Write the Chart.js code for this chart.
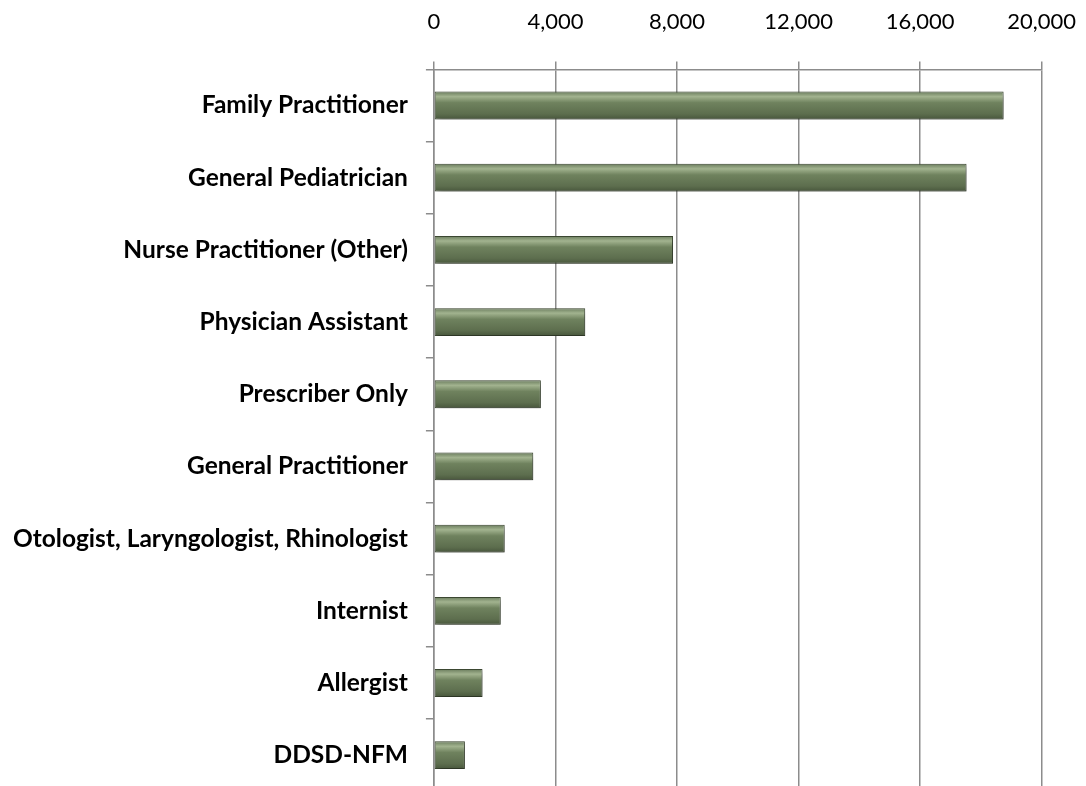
<!DOCTYPE html>
<html>
<head>
<meta charset="utf-8">
<script src="https://cdn.jsdelivr.net/npm/chart.js@4"></script>
<style>
  html, body { margin: 0; padding: 0; background: #fff; overflow: hidden; }
  .chart-container { position: relative; width: 1102px; height: 824px; }
</style>
</head>
<body>
<div class="chart-container"><canvas id="barChart"></canvas></div>
<script>
// Dados do gráfico
const categories = [
    'Family Practitioner',
    'General Pediatrician',
    'Nurse Practitioner (Other)',
    'Physician Assistant',
    'Prescriber Only',
    'General Practitioner',
    'Otologist, Laryngologist, Rhinologist',
    'Internist',
    'Allergist',
    'DDSD-NFM'
];
const counts = [18750, 17530, 7870, 4980, 3520, 3270, 2330, 2200, 1600, 1020];
const tickValues = [0, 4000, 8000, 12000, 16000, 20000];

const CAT_PCT = 0.385;

// Gradiente vertical para dar o efeito chanfrado
function barGradient(context) {
    const chart = context.chart;
    const yScale = chart.scales.y;
    if (!yScale || context.dataIndex === undefined) return '#64764f';
    const y = yScale.getPixelForValue(context.dataIndex);
    const half = (yScale.height / categories.length) * CAT_PCT / 2;
    if (!isFinite(y) || !isFinite(half) || half <= 0) return '#64764f';
    const g = chart.ctx.createLinearGradient(0, y - half, 0, y + half);
    g.addColorStop(0, '#6a7c5d');
    g.addColorStop(0.18, '#a2b38f');
    g.addColorStop(0.4, '#6f825e');
    g.addColorStop(0.8, '#5d6e4e');
    g.addColorStop(1, '#48563c');
    return g;
}

// Sombra suave atrás das barras
const shadowPlugin = {
    id: 'barShadow',
    beforeDatasetsDraw(chart) {
        const ctx = chart.ctx;
        ctx.save();
        ctx.shadowColor = 'rgba(0, 0, 0, 0.35)';
        ctx.shadowBlur = 6;
        ctx.shadowOffsetX = 2;
        ctx.shadowOffsetY = 3;
    },
    afterDatasetsDraw(chart) {
        chart.ctx.restore();
    }
};

const barConfig = {
    type: 'bar',
    data: {
        labels: categories,
        datasets: [{
            data: counts,
            backgroundColor: barGradient,
            borderColor: '#3e4a33',
            borderWidth: 1,
            borderSkipped: false,
            categoryPercentage: CAT_PCT,
            barPercentage: 1
        }]
    },
    plugins: [shadowPlugin],
    options: {
        indexAxis: 'y',
        responsive: true,
        maintainAspectRatio: false,
        animation: false,
        layout: {
            padding: { top: -17, right: 12, bottom: 0, left: -5 }
        },
        plugins: {
            legend: { display: false },
            tooltip: { enabled: false }
        },
        scales: {
            x: {
                position: 'top',
                min: 0,
                max: 20000,
                afterBuildTicks: function(axis) {
                    axis.ticks = tickValues.map(v => ({ value: v }));
                },
                ticks: {
                    color: '#000',
                    padding: 26,
                    font: { family: 'Lato, sans-serif', size: 22 },
                    callback: function(value) {
                        return value.toLocaleString('en-US');
                    }
                },
                grid: {
                    color: '#8c8c8c',
                    lineWidth: 1.5,
                    tickLength: 8
                },
                border: { color: '#8c8c8c', width: 1.5 }
            },
            y: {
                ticks: {
                    color: '#000',
                    padding: 18,
                    font: { family: 'Lato, sans-serif', size: 24.5, weight: 'bold' }
                },
                grid: {
                    drawOnChartArea: false,
                    color: '#8c8c8c',
                    lineWidth: 1.5,
                    tickLength: 8
                },
                border: { color: '#8c8c8c', width: 1.5 }
            }
        }
    }
};

const barChart = new Chart(document.getElementById('barChart'), barConfig);
</script>
</body>
</html>
